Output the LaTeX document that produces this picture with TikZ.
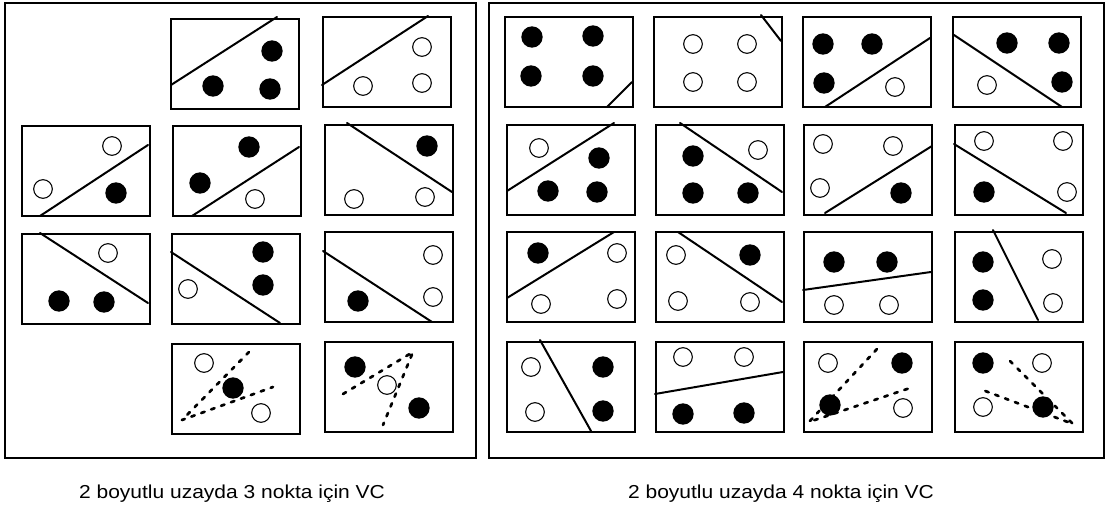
\documentclass[tikz,border=0pt]{standalone}
\usepackage{graphicx}
\usepackage{fontspec}
\setmainfont{Liberation Sans}

\tikzset{
  frame/.style={draw, line width=1.5pt},
  panel/.style={draw, line width=1.7pt},
  sep/.style={line width=1.7pt, line cap=round},
  hull/.style={line width=2.3pt, dash pattern=on 3pt off 6pt, line join=round, line cap=round},
  posdot/.style={fill=black},
  negdot/.style={draw, fill=white, line width=0.9pt},
  caption/.style={font=\fontsize{16}{19}\selectfont}
}
\newcommand{\vcpanel}[3]{%
  \begin{scope}[shift={(#1,#2)}]
    \draw[panel] (0,0) rectangle (128,90);
    #3
  \end{scope}}
\newcommand{\vcpos}[1]{\fill[posdot] (#1) circle (0.32cm);}
\newcommand{\vcneg}[1]{\draw[negdot] (#1) circle (0.28cm);}

\begin{document}
\begin{tikzpicture}[x=0.03cm, y=-0.03cm]
    \useasboundingbox (0,0) rectangle (1107,513);
    \draw[frame] (5,3) rectangle (476,458);
    \draw[frame] (489,3) rectangle (1104,458);

    % 3 points
    \vcpanel{171}{19}{\draw[sep] (0,66) -- (106,-2); \vcpos{42,67} \vcpos{101,32} \vcpos{99,70}}
    \vcpanel{323}{17}{\draw[sep] (-1,68) -- (105,-1); \vcneg{40,69} \vcneg{99,30} \vcneg{99,66}}
    \vcpanel{22}{126}{\draw[sep] (18,90) -- (126,19); \vcneg{90,20} \vcneg{21,63} \vcpos{94,67}}
    \vcpanel{173}{126}{\draw[sep] (19,90) -- (126,21); \vcpos{76,21} \vcpos{27,57} \vcneg{82,73}}
    \vcpanel{325}{125}{\draw[sep] (22,-2) -- (127,67); \vcpos{102,21} \vcneg{29,74} \vcneg{100,72}}
    \vcpanel{22}{234}{\draw[sep] (18,-1) -- (126,69); \vcneg{86,19} \vcpos{37,67} \vcpos{82,68}}
    \vcpanel{172}{234}{\draw[sep] (-1,18) -- (108,89); \vcpos{91,18} \vcpos{91,51} \vcneg{16,55}}
    \vcpanel{325}{232}{\draw[sep] (-2,19) -- (107,90); \vcneg{108,23} \vcneg{108,65} \vcpos{33,69}}
    \vcpanel{172}{344}{\draw[hull] (77,8) -- (10,76) -- (101,43); \vcneg{32,19} \vcneg{89,69} \vcpos{61,44}}
    \vcpanel{325}{342}{\draw[hull] (18,52) -- (88,10) -- (58,83); \vcpos{30,25} \vcpos{94,66} \vcneg{62,43}}

    % 4 points
    \vcpanel{505}{17}{\vcpos{27,20} \vcpos{88,19} \vcpos{26,59} \vcpos{88,59} \draw[sep] (102,90) -- (127,65);}
    \vcpanel{654}{17}{\vcneg{39,27} \vcneg{93,27} \vcneg{39,65} \vcneg{93,65} \draw[sep] (107,-2) -- (127,24);}
    \vcpanel{803}{17}{\vcpos{20,27} \vcpos{69,27} \vcpos{21,66} \vcneg{92,70} \draw[sep] (22,90) -- (127,21);}
    \vcpanel{953}{17}{\vcpos{54,26} \vcpos{106,26} \vcpos{109,65} \vcneg{34,68} \draw[sep] (1,18) -- (109,90);}
    \vcpanel{507}{125}{\vcneg{32,23} \vcpos{92,33} \vcpos{41,66} \vcpos{90,67} \draw[sep] (0,66) -- (107,-2);}
    \vcpanel{656}{125}{\vcpos{37,31} \vcpos{37,68} \vcpos{92,68} \vcneg{102,25} \draw[sep] (24,-2) -- (126,67);}
    \vcpanel{804}{125}{\vcneg{19,19} \vcneg{89,21} \vcneg{16,63} \vcpos{97,68} \draw[sep] (21,88) -- (128,21);}
    \vcpanel{955}{125}{\vcneg{29,16} \vcneg{108,16} \vcneg{112,67} \vcpos{29,67} \draw[sep] (-1,19) -- (111,88);}
    \vcpanel{507}{232}{\vcpos{31,21} \vcneg{110,21} \vcneg{34,72} \vcneg{110,67} \draw[sep] (0,66) -- (107,0);}
    \vcpanel{656}{232}{\vcneg{20,23} \vcneg{22,69} \vcneg{94,70} \vcpos{94,23} \draw[sep] (22,0) -- (126,70);}
    \vcpanel{804}{232}{\vcpos{30,30} \vcpos{83,30} \vcneg{30,73} \vcneg{85,73} \draw[sep] (-1,58) -- (127,40);}
    \vcpanel{955}{232}{\vcpos{28,30} \vcpos{28,68} \vcneg{97,27} \vcneg{98,71} \draw[sep] (38,-2) -- (83,88);}
    \vcpanel{507}{342}{\vcneg{24,25} \vcneg{28,70} \vcpos{96,25} \vcpos{96,69} \draw[sep] (33,-2) -- (84,89);}
    \vcpanel{656}{342}{\vcneg{27,15} \vcneg{88,15} \vcpos{27,72} \vcpos{88,71} \draw[sep] (-1,52) -- (127,30);}
    \vcpanel{804}{342}{\draw[hull] (73,7) -- (5,80) -- (109,45); \vcneg{24,21} \vcneg{99,66} \vcpos{98,21} \vcpos{26,63}}
    \vcpanel{955}{342}{\draw[hull] (55,19) -- (118,82) -- (25,47); \vcpos{28,21} \vcpos{88,65} \vcneg{87,21} \vcneg{28,65}}

    \node[caption] (cap3) at (232,494) {\scalebox{1.12}[1]{2 boyutlu uzayda 3 nokta için VC}};
    \node[caption] (cap4) at (781,494) {\scalebox{1.12}[1]{2 boyutlu uzayda 4 nokta için VC}};
\end{tikzpicture}
\end{document}
